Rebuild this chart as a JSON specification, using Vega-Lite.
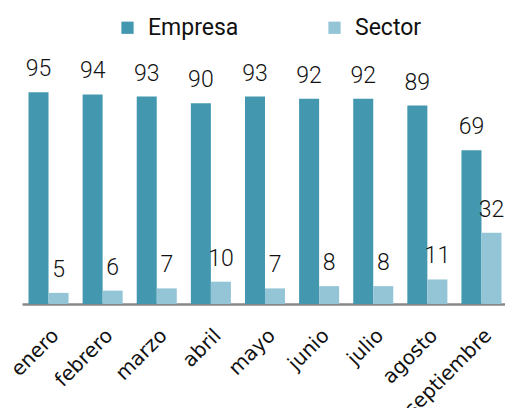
{
  "$schema": "https://vega.github.io/schema/vega-lite/v6.json",
  "autosize": "none",
  "width": 486,
  "height": 223,
  "padding": {"left": 22, "top": 81, "right": 0, "bottom": 104},
  "background": "white",
  "config": {"view": {"stroke": null}},
  "data": {
    "values": [
      {"mes": "enero", "serie": "Empresa", "valor": 95},
      {"mes": "enero", "serie": "Sector", "valor": 5},
      {"mes": "febrero", "serie": "Empresa", "valor": 94},
      {"mes": "febrero", "serie": "Sector", "valor": 6},
      {"mes": "marzo", "serie": "Empresa", "valor": 93},
      {"mes": "marzo", "serie": "Sector", "valor": 7},
      {"mes": "abril", "serie": "Empresa", "valor": 90},
      {"mes": "abril", "serie": "Sector", "valor": 10},
      {"mes": "mayo", "serie": "Empresa", "valor": 93},
      {"mes": "mayo", "serie": "Sector", "valor": 7},
      {"mes": "junio", "serie": "Empresa", "valor": 92},
      {"mes": "junio", "serie": "Sector", "valor": 8},
      {"mes": "julio", "serie": "Empresa", "valor": 92},
      {"mes": "julio", "serie": "Sector", "valor": 8},
      {"mes": "agosto", "serie": "Empresa", "valor": 89},
      {"mes": "agosto", "serie": "Sector", "valor": 11},
      {"mes": "septiembre", "serie": "Empresa", "valor": 69},
      {"mes": "septiembre", "serie": "Sector", "valor": 32}
    ]
  },
  "encoding": {
    "x": {
      "field": "mes", "type": "nominal", "sort": null,
      "scale": {"paddingInner": 0.26, "paddingOuter": 0.12},
      "axis": {
        "title": null, "labelAngle": -45, "labelFont": "DejaVu Sans", "labelFontSize": 20,
        "labelColor": "#111111", "ticks": false, "labelPadding": 21,
        "domainColor": "#888888", "domainWidth": 2.5, "grid": false
      }
    },
    "xOffset": {"field": "serie", "type": "nominal", "sort": ["Empresa", "Sector"]},
    "y": {
      "field": "valor", "type": "quantitative",
      "scale": {"domain": [0, 100], "nice": false},
      "axis": null
    }
  },
  "layer": [
    {
      "mark": {"type": "bar"},
      "encoding": {
        "color": {
          "field": "serie", "type": "nominal", "sort": ["Empresa", "Sector"],
          "scale": {"domain": ["Empresa", "Sector"], "range": ["#4398B0", "#94C5D6"]},
          "legend": {
            "title": null, "orient": "none", "direction": "horizontal",
            "legendX": 94, "legendY": -65, "padding": 0,
            "symbolType": "square", "symbolSize": 150, "symbolStrokeWidth": 0,
            "labelFont": "Roboto", "labelFontSize": 23, "labelColor": "#111111",
            "labelOffset": 9, "columnPadding": 84
          }
        }
      }
    },
    {
      "mark": {"type": "text", "baseline": "alphabetic", "dy": -16, "font": "Roboto", "fontWeight": 300, "fontSize": 23, "color": "#111111"},
      "encoding": {"text": {"field": "valor", "type": "quantitative"}}
    }
  ]
}
